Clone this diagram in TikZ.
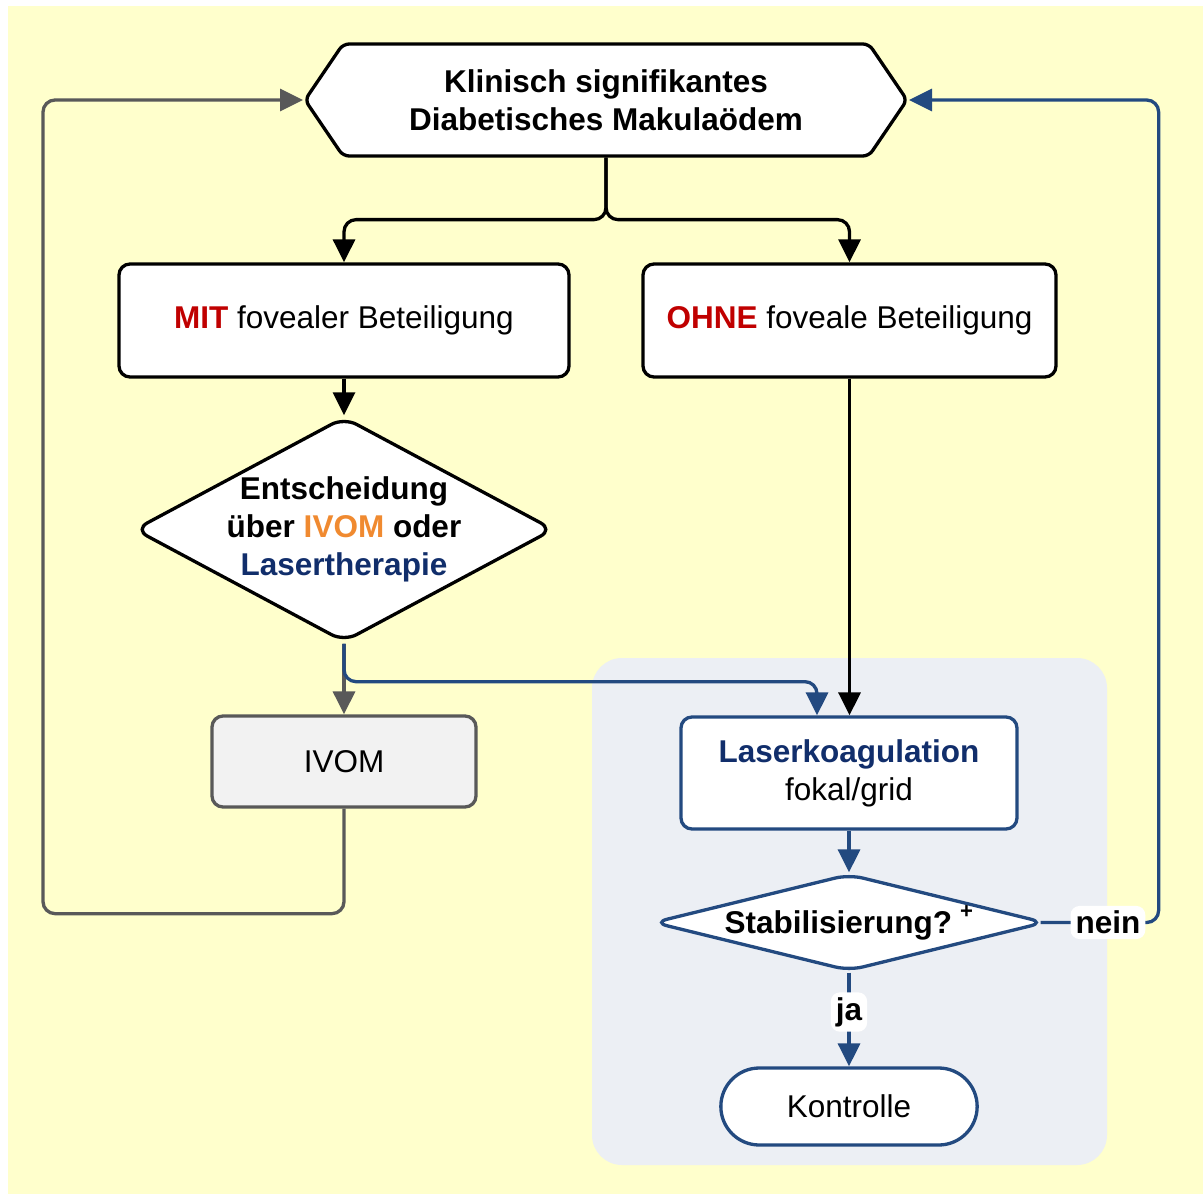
\documentclass[tikz,border=0pt]{standalone}
\usepackage{fontspec}
\setmainfont{Liberation Sans}
\usepackage{xcolor}
\usepackage{tikz}
\usetikzlibrary{arrows.meta,positioning,shapes.geometric,shapes.symbols,shapes.misc,calc}
\definecolor{paperyellow}{HTML}{FFFFCC}
\definecolor{panelgray}{HTML}{ECEFF4}
\definecolor{linegray}{HTML}{595959}
\definecolor{boxgray}{HTML}{F2F2F2}
\definecolor{laserblue}{HTML}{234A80}
\definecolor{lasernavy}{HTML}{112E6B}
\definecolor{alertred}{HTML}{C00000}
\definecolor{ivomorange}{HTML}{F08A30}
\newcommand{\bigtxt}{\fontsize{31.5}{38}\selectfont}
\tikzset{
  base/.style={draw=black, line width=3.3pt, fill=white, align=center, font=\bigtxt},
  stepbox/.style={base, rectangle, rounded corners=11pt},
  hexbox/.style={base, signal, signal to=west and east, signal pointer angle=111.6, rounded corners=6pt},
  decision/.style={base, diamond, rounded corners=14pt, inner sep=-2pt},
  terminal/.style={base, rounded rectangle},
  tag/.style={fill=white, rounded corners=9pt, font=\bigtxt\bfseries, inner sep=5pt},
  arrow/.style={-{Triangle[length=23pt,width=22pt]}, line width=3.3pt},
  blackarrow/.style={arrow, draw=black, rounded corners=12pt},
  grayarrow/.style={arrow, draw=linegray, rounded corners=12pt},
  bluearrow/.style={arrow, draw=laserblue, rounded corners=12pt}
}

\begin{document}
\begin{tikzpicture}[x=1pt, y=-1pt]
  \useasboundingbox (0,0) rectangle (1203,1196);
  \fill[paperyellow] (8,6) rectangle (1203,1194);
  \node[rectangle, fill=panelgray, rounded corners=30pt, minimum width=515pt, minimum height=507pt] (lasergroup) at (849.5,911.5) {};

  \node[hexbox, font=\bigtxt\bfseries, minimum width=602pt, minimum height=112pt] (dme) at (606,100) {Klinisch signifikantes\\Diabetisches Makulaödem};
  \node[stepbox, minimum width=450pt, minimum height=113pt] (mit) at (344,320.5) {\textcolor{alertred}{\bfseries MIT} fovealer Beteiligung};
  \node[stepbox, minimum width=413pt, minimum height=113pt] (ohne) at (849.5,320.5) {\textcolor{alertred}{\bfseries OHNE} foveale Beteiligung};
  \node[decision, aspect=1.864, font=\bigtxt\bfseries, minimum width=412pt, minimum height=221pt] (dec) at (344,529.5) {Entscheidung\\über \textcolor{ivomorange}{IVOM} oder\\\textcolor{lasernavy}{Lasertherapie}};
  \node[stepbox, draw=linegray, fill=boxgray, minimum width=264pt, minimum height=91pt] (ivom) at (344,761.5) {IVOM};
  \node[stepbox, draw=laserblue, minimum width=336pt, minimum height=112pt] (laser) at (849,773) {\textcolor{lasernavy}{\bfseries Laserkoagulation}\\fokal/grid};
  \node[decision, aspect=4, draw=laserblue, font=\bigtxt\bfseries, minimum width=392pt, minimum height=97pt] (stab) at (849,922.5) {Stabilisierung?\hspace{8pt}\raisebox{6pt}{\textsuperscript{+}}};
  \node[terminal, draw=laserblue, minimum width=263pt, minimum height=77pt] (kontrolle) at (849,1106.5) {Kontrolle};

  \draw[blackarrow] (dme.south) -- ++(0,62) -| (mit.north);
  \draw[blackarrow] (dme.south) -- ++(0,62) -| (ohne.north);
  \draw[blackarrow] (mit.south) -- (dec.north);
  \draw[blackarrow] (ohne.south) -- (ohne.south |- laser.north);
  \draw[grayarrow] (dec.south) -- (ivom.north);
  \draw[bluearrow] (dec.south) -- ++(0,38) -| ([xshift=-32pt]laser.north);
  \draw[grayarrow] (ivom.south) -- ++(0,105) -| ([xshift=-260pt]dme.west) -- (dme.west);
  \draw[bluearrow] (laser.south) -- (stab.north);
  \draw[bluearrow] (stab.south) -- node[tag, pos=0.42]{ja} (kontrolle.north);
  \draw[bluearrow] ([xshift=-6pt]stab.east) -- node[tag, pos=0.57]{nein} ++(118,0) |- (dme.east);
\end{tikzpicture}
\end{document}
